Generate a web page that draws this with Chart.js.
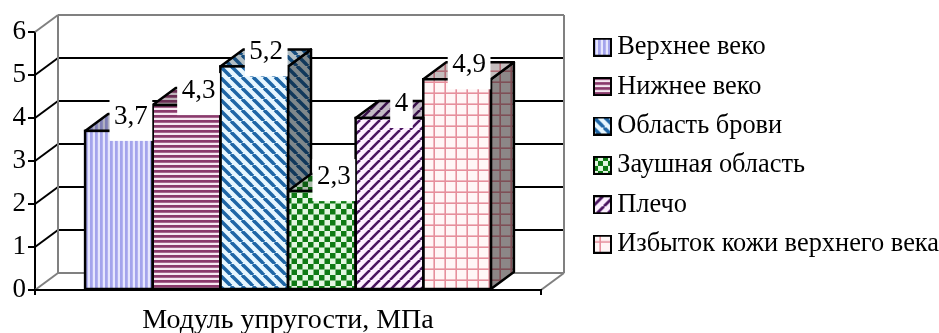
<!DOCTYPE html>
<html lang="ru">
<head>
<meta charset="utf-8">
<title>Модуль упругости</title>
<script src="https://cdn.jsdelivr.net/npm/chart.js@4"></script>
<style>
html,body{margin:0;padding:0;background:#fff}
#wrap{width:939px;height:333px;position:relative}
</style>
</head>
<body>
<div id="wrap"><canvas id="chart" width="939" height="333"></canvas></div>
<script>
const categories = ['Модуль упругости, МПа'];
const seriesNames = ['Верхнее веко', 'Нижнее веко', 'Область брови', 'Заушная область', 'Плечо', 'Избыток кожи верхнего века'];
const seriesValues = [3.7, 4.3, 5.2, 2.3, 4, 4.9];
const yTicks = [0, 1, 2, 3, 4, 5, 6];

const FONT = '"Liberation Serif", "Times New Roman", serif';
const DEPTH_X = 23, DEPTH_Y = 17;
const WALL_GREY = '#808080';
const OUTLINE = 2.5;

// Hatch fills, one painter per series; p is the tile size in pixels.
function tile(p, paint) {
  const c = document.createElement('canvas');
  c.width = c.height = p;
  paint(c.getContext('2d'), p);
  return c;
}
function diagonal(ctx, p, down, ink, paper, w) {
  ctx.fillStyle = paper; ctx.fillRect(0, 0, p, p);
  ctx.strokeStyle = ink; ctx.lineWidth = w;
  for (let k = -1; k <= 1; k++) {
    ctx.beginPath();
    if (down) { ctx.moveTo(k * p, 0); ctx.lineTo(k * p + p, p); }
    else { ctx.moveTo(k * p, p); ctx.lineTo(k * p + p, 0); }
    ctx.stroke();
  }
}
const painters = [
  p => tile(p, (c, s) => { c.fillStyle = '#e6e6fd'; c.fillRect(0, 0, s, s); c.fillStyle = '#a4a4ec'; c.fillRect(0, 0, s * 0.55, s); }),
  p => tile(p, (c, s) => { c.fillStyle = '#f6e8f1'; c.fillRect(0, 0, s, s); c.fillStyle = '#8a3a6c'; c.fillRect(0, 0, s, s * 0.55); }),
  p => tile(p, (c, s) => diagonal(c, s, true, '#1f66a6', '#e8f7ff', s * 0.32)),
  p => tile(p, (c, s) => { c.fillStyle = '#e4f6e2'; c.fillRect(0, 0, s, s); c.fillStyle = '#0f7a14'; c.fillRect(0, 0, s / 2, s / 2); c.fillRect(s / 2, s / 2, s / 2, s / 2); }),
  p => tile(p, (c, s) => diagonal(c, s, false, '#4a1560', '#fdf1ff', s * 0.26)),
  p => tile(p, (c, s) => { c.fillStyle = '#fff6f6'; c.fillRect(0, 0, s, s); c.fillStyle = '#e68f9c'; c.fillRect(0, s * 0.4, s, 1.6); c.fillRect(s * 0.4, 0, 1.6, s); })
];
const barTiles = [5, 5, 11, 11, 10, 11];
const swatchTiles = [5, 5, 11, 10, 11, 16];

const scratch = document.createElement('canvas').getContext('2d');
const fills = painters.map((paint, i) => scratch.createPattern(paint(barTiles[i]), 'repeat'));

// Legend keys: a hatched square with a heavy black outline.
const swatches = painters.map((paint, i) => {
  const c = document.createElement('canvas');
  c.width = c.height = 19;
  const g = c.getContext('2d');
  g.fillStyle = g.createPattern(paint(swatchTiles[i]), 'repeat');
  g.fillRect(1, 1, 17, 17);
  g.strokeStyle = '#000'; g.lineWidth = 2;
  g.strokeRect(1, 1, 17, 17);
  return c;
});

function line(ctx, color, x1, y1, x2, y2) {
  ctx.strokeStyle = color;
  ctx.beginPath(); ctx.moveTo(x1, y1); ctx.lineTo(x2, y2); ctx.stroke();
}

const wallPlugin = {
  id: 'walls',
  beforeDatasetsDraw(chart) {
    const { ctx, chartArea: a, scales: { y } } = chart;
    ctx.save();
    ctx.lineWidth = 2;

    // Back wall, side wall and floor of the box behind the columns.
    yTicks.forEach(t => {
      const py = y.getPixelForValue(t);
      const edge = t === yTicks[0] || t === yTicks[yTicks.length - 1];
      const color = edge ? WALL_GREY : '#000';
      line(ctx, color, a.left, py, a.left + DEPTH_X, py - DEPTH_Y);
      line(ctx, color, a.left + DEPTH_X, py - DEPTH_Y, a.right + DEPTH_X, py - DEPTH_Y);
    });
    line(ctx, WALL_GREY, a.left + DEPTH_X, a.top - DEPTH_Y, a.left + DEPTH_X, a.bottom - DEPTH_Y);
    line(ctx, WALL_GREY, a.right + DEPTH_X, a.top - DEPTH_Y, a.right + DEPTH_X, a.bottom - DEPTH_Y);
    line(ctx, WALL_GREY, a.right, a.bottom, a.right + DEPTH_X, a.bottom - DEPTH_Y);

    // Top and right faces of each column, shaded over the same hatch.
    // Painted left to right; the library then draws the front faces over them.
    ctx.strokeStyle = '#000';
    ctx.lineWidth = OUTLINE;
    ctx.lineJoin = 'round';
    const face = (pts, fill, shade) => {
      ctx.beginPath();
      pts.forEach((p, i) => i ? ctx.lineTo(p[0], p[1]) : ctx.moveTo(p[0], p[1]));
      ctx.closePath();
      ctx.fillStyle = fill;
      ctx.fill();
      ctx.save();
      ctx.globalCompositeOperation = 'multiply';
      ctx.fillStyle = shade;
      ctx.fill();
      ctx.restore();
      ctx.stroke();
    };
    seriesValues.forEach((v, i) => {
      const bar = chart.getDatasetMeta(i).data[0];
      const { x, y: top, base, width } = bar.getProps(['x', 'y', 'base', 'width'], true);
      const l = x - width / 2, r = x + width / 2;
      face([[r, top], [r + DEPTH_X, top - DEPTH_Y], [r + DEPTH_X, base - DEPTH_Y], [r, base]], fills[i], '#8c8c8c');
      face([[l, top], [l + DEPTH_X, top - DEPTH_Y], [r + DEPTH_X, top - DEPTH_Y], [r, top]], fills[i], '#c4c4c4');
    });
    ctx.restore();
  },
  afterDatasetsDraw(chart) {
    const { ctx } = chart;
    ctx.save();

    // Single outline around every front face, shared where columns touch.
    ctx.strokeStyle = '#000';
    ctx.lineWidth = OUTLINE;
    seriesValues.forEach((v, i) => {
      const { x, y, base, width } = chart.getDatasetMeta(i).data[0].getProps(['x', 'y', 'base', 'width'], true);
      ctx.strokeRect(x - width / 2, y, width, base - y);
    });

    // Value captions on white plates, above everything else.
    ctx.font = '27px ' + FONT;
    ctx.textAlign = 'center';
    ctx.textBaseline = 'alphabetic';
    seriesValues.forEach((v, i) => {
      const { x, y } = chart.getDatasetMeta(i).data[0].getProps(['x', 'y'], true);
      const text = String(v).replace('.', ',');
      const w = ctx.measureText(text).width + 9;
      const cx = x + 12;
      ctx.fillStyle = '#fff';
      ctx.fillRect(cx - w / 2, y - 32, w, 42);
      ctx.fillStyle = '#000';
      ctx.fillText(text, cx, y - 7);
    });
    ctx.restore();
  },
  // Pin the legend block beside the box at a fixed width and position.
  beforeLayout(chart) {
    const lg = chart.legend;
    const baseFit = Object.getPrototypeOf(lg).fit;
    lg.fit = function () { baseFit.call(this); this.width = 398; };
  },
  afterLayout(chart) {
    const lg = chart.legend;
    const pad = lg.options.labels.padding;
    lg.left = 601 - pad;
    lg.top = 34 - pad;
  }
};

new Chart(document.getElementById('chart'), {
  type: 'bar',
  data: {
    labels: categories,
    datasets: seriesNames.map((name, i) => ({
      label: name,
      data: [seriesValues[i]],
      backgroundColor: fills[i],
      borderWidth: 0,
      barPercentage: 1,
      categoryPercentage: 0.802
    }))
  },
  options: {
    responsive: false,
    animation: false,
    devicePixelRatio: 1,
    layout: { padding: { left: 0, right: 0, top: 32, bottom: 0 } },
    scales: {
      x: {
        afterFit(s) { s.height = 43; },
        border: { color: '#000', width: 2, z: 1 },
        grid: { offset: true, drawOnChartArea: false, color: '#000', lineWidth: 2, tickLength: 5, z: 1 },
        ticks: { color: '#000', font: { family: FONT, size: 28 }, padding: 9, maxRotation: 0 }
      },
      y: {
        min: 0, max: 6,
        afterFit(s) { s.width = 35; },
        border: { color: '#000', width: 2 },
        grid: { drawOnChartArea: false, color: '#000', lineWidth: 2, tickLength: 7 },
        ticks: { stepSize: 1, color: '#000', font: { family: FONT, size: 27 }, padding: 2 }
      }
    },
    plugins: {
      tooltip: { enabled: false },
      legend: {
        position: 'right',
        align: 'start',
        labels: {
          color: '#000',
          font: { family: FONT, size: 26.4 },
          padding: 13,
          usePointStyle: true,
          pointStyleWidth: 3,
          generateLabels: () => seriesNames.map((text, i) => ({
            text,
            pointStyle: swatches[i],
            fillStyle: '#000',
            strokeStyle: '#000',
            lineWidth: 0,
            datasetIndex: i
          }))
        }
      }
    }
  },
  plugins: [wallPlugin]
});
</script>
</body>
</html>
